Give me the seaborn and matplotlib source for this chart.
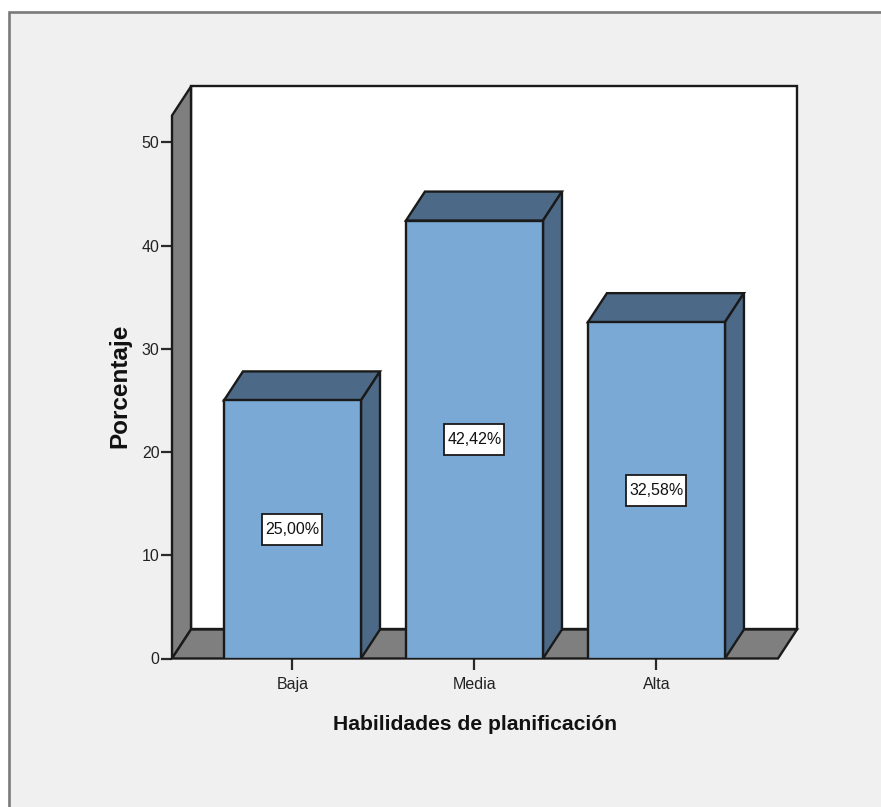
import pandas as pd
import matplotlib
matplotlib.use('Agg')
import matplotlib.pyplot as plt
import seaborn as sns
from matplotlib.patches import Polygon, Rectangle

# Values
categories = ['Baja', 'Media', 'Alta']
percentages = [25.00, 42.42, 32.58]
value_labels = ['25,00%', '42,42%', '32,58%']
y_ticks = [0, 10, 20, 30, 40, 50]

W, H = 881, 807
BAR_FACE = '#7ba9d6'
BAR_DARK = '#4c6a87'
WALL = '#7f7f7f'
EDGE = '#1a1a1a'
PANEL = '#f0f0f0'

sns.set_style('white')
plt.rcParams['font.family'] = ['Liberation Sans', 'DejaVu Sans']

fig = plt.figure(figsize=(W / 100, H / 100), dpi=100, facecolor='white')

# grey panel with the window border on top and left
fig.patches.append(Rectangle((9 / W, -0.01), 1.02, (807 - 12) / H + 0.01, transform=fig.transFigure,
                             facecolor=PANEL, edgecolor='#7a7a7a', linewidth=1.9, zorder=-1))

ax = fig.add_axes([172 / W, (H - 658.5) / H, 606 / W, (659 - 116) / H])
ax.patch.set_visible(False)

df = pd.DataFrame({'nivel': categories, 'porcentaje': percentages})
sns.barplot(data=df, x='nivel', y='porcentaje', order=categories, color=BAR_FACE, saturation=1,
            width=0.753, edgecolor=EDGE, linewidth=1.7, ax=ax, zorder=5)

ax.set_xlim(-0.662, 2.668)
ax.set_ylim(0, 52.6)

# depth of the fake 3D box, in data units
dx = 19 / 182
dy = 29 / 10.32
x0, x1 = ax.get_xlim()
y0, y1 = ax.get_ylim()


def face(points, color, z):
    ax.add_patch(Polygon(points, closed=True, facecolor=color, edgecolor=EDGE, linewidth=1.7,
                         joinstyle='miter', clip_on=False, zorder=z))


bars = list(ax.patches[:len(categories)])

face([(x0 + dx, y0 + dy), (x1 + dx, y0 + dy), (x1 + dx, y1 + dy), (x0 + dx, y1 + dy)], 'white', 1)
face([(x0, y0), (x0 + dx, y0 + dy), (x0 + dx, y1 + dy), (x0, y1)], WALL, 2)
face([(x0, y0), (x1, y0), (x1 + dx, y0 + dy), (x0 + dx, y0 + dy)], WALL, 2)

# value box size in data units (60 x 31 px on the reference)
box_w = 60 / 182
box_h = 31 / 10.32

# top and side of each bar, then its value box
for bar, label in zip(bars, value_labels):
    left, right, top = bar.get_x(), bar.get_x() + bar.get_width(), bar.get_height()
    face([(left, top), (right, top), (right + dx, top + dy), (left + dx, top + dy)], BAR_DARK, 4)
    face([(right, 0), (right + dx, dy), (right + dx, top + dy), (right, top)], BAR_DARK, 4)
    mid = (left + right) / 2
    ax.add_patch(Rectangle((mid - box_w / 2, top / 2 - box_h / 2), box_w, box_h, facecolor='white',
                           edgecolor=EDGE, linewidth=1.3, zorder=6))
    ax.text(mid, top / 2, label, ha='center', va='center', fontsize=11.5,
            color='#111111', zorder=7)

sns.despine(ax=ax, left=True, bottom=True, top=True, right=True)
ax.set_yticks(y_ticks)
ax.tick_params(axis='both', length=8, width=1.6, color='#2a2a2a', left=True, bottom=True,
               labelsize=11.5, labelcolor='#222222', pad=1)
ax.tick_params(axis='x', pad=5)

ax.set_xlabel('Habilidades de planificación', fontsize=15.2, fontweight='bold', color='#111111', labelpad=10)
ax.set_ylabel('Porcentaje', fontsize=17.5, fontweight='bold', color='#111111', labelpad=0)
ax.xaxis.set_label_coords((475 - 172) / 606, (659 - 725) / (659 - 116), transform=ax.transAxes)
ax.xaxis.label.set_va('center')
ax.yaxis.set_label_coords((120 - 172) / 606, (659 - 386) / (659 - 116), transform=ax.transAxes)
ax.yaxis.label.set_va('center')

plt.savefig('out.png', dpi=100)
plt.close()
